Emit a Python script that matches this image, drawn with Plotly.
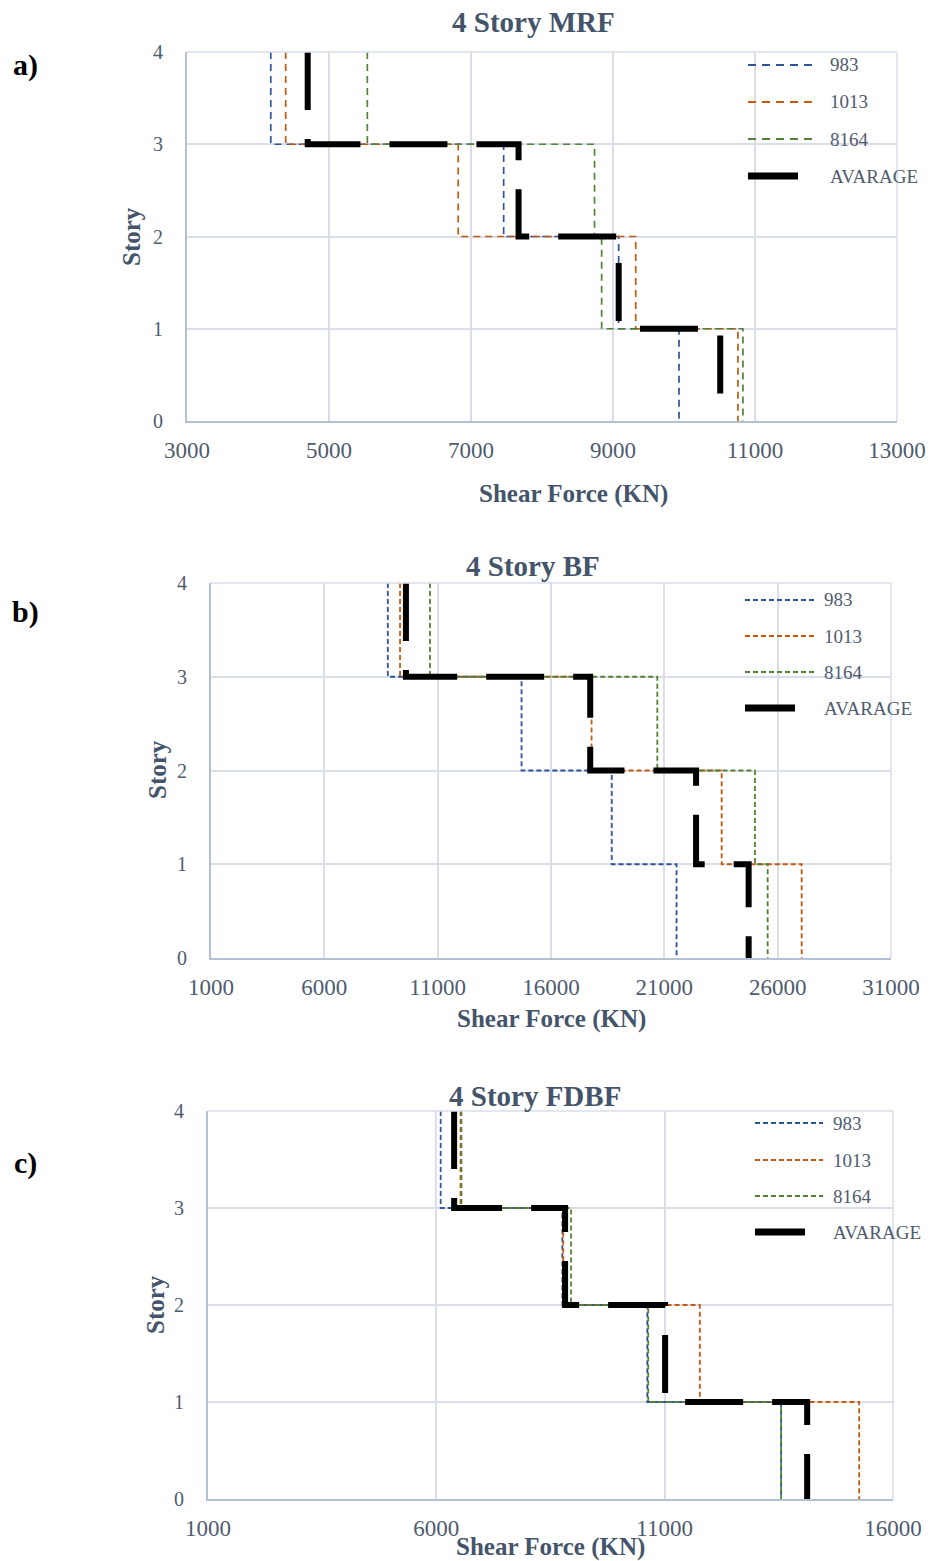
import plotly.graph_objects as go

# ---- data: story shear (kN) for stories 4..1, by record ----
STORY_LEVELS = [4, 3, 2, 1, 0]
RECORDS = ["983", "1013", "8164", "AVARAGE"]

MRF_983 = [4180, 7460, 9080, 9930]
MRF_1013 = [4390, 6820, 9320, 10760]
MRF_8164 = [5540, 8740, 8840, 10830]
MRF_AVG = [4700, 7670, 9080, 10510]

BF_983 = [8800, 14700, 18680, 21540]
BF_1013 = [9340, 17790, 23530, 27060]
BF_8164 = [10660, 20690, 25000, 25560]
BF_AVG = [9600, 17730, 22400, 24720]

FDBF_983 = [6095, 8760, 10620, 13550]
FDBF_1013 = [6530, 8780, 11770, 15260]
FDBF_8164 = [6550, 8950, 10640, 13550]
FDBF_AVG = [6390, 8820, 11010, 14120]

PANEL_TITLES = ["4 Story MRF", "4 Story BF", "4 Story FDBF"]
PANEL_TAGS = ["a)", "b)", "c)"]
X_RANGES = [[3000, 13000], [1000, 31000], [1000, 16000]]
X_TICKS = [
    [3000, 5000, 7000, 9000, 11000, 13000],
    [1000, 6000, 11000, 16000, 21000, 26000, 31000],
    [1000, 6000, 11000, 16000],
]
Y_TICKS = [0, 1, 2, 3, 4]

PANELS = [
    [MRF_983, MRF_1013, MRF_8164, MRF_AVG],
    [BF_983, BF_1013, BF_8164, BF_AVG],
    [FDBF_983, FDBF_1013, FDBF_8164, FDBF_AVG],
]

# ---- styling ----
W, H = 933, 1561
SERIF = "Liberation Serif, Times New Roman, serif"
COLORS = ["#2F5597", "#C55A11", "#548235", "#000000"]
TEXT = "#44546A"
TICK_TEXT = "#4F5B6E"
GRID = "#D9DEE8"
AXLINE = "#B4C0D4"


def px(x):
    return x / W


def py(y):
    return 1 - y / H


# plot-area boxes in pixels: left, right, top, bottom
BOXES = [(187, 897, 52, 421), (211, 891, 583, 958), (208, 893, 1111, 1499)]
THIN_DASH = ["7px,5px", "5px,3px", "5px,3px"]
THIN_W = [1.7, 1.8, 1.8]

fig = go.Figure()
shapes = []

for i, series in enumerate(PANELS):
    xa = "x" if i == 0 else f"x{i + 1}"
    ya = "y" if i == 0 else f"y{i + 1}"
    for j, vals in enumerate(series):
        is_avg = j == 3
        fig.add_trace(go.Scatter(
            x=vals + [vals[-1]],
            y=STORY_LEVELS,
            mode="lines",
            line_shape="vh",
            name=RECORDS[j],
            showlegend=False,
            line=dict(
                color=COLORS[j],
                width=6 if is_avg else THIN_W[i],
                dash="58px,29px" if is_avg else THIN_DASH[i],
            ),
            xaxis=xa,
            yaxis=ya,
        ))

    l, r, t, b = BOXES[i]
    xkey = "xaxis" if i == 0 else f"xaxis{i + 1}"
    ykey = "yaxis" if i == 0 else f"yaxis{i + 1}"
    fig.update_layout({
        xkey: dict(
            domain=[px(l), px(r)],
            anchor=ya,
            range=X_RANGES[i],
            tickvals=X_TICKS[i],
            tickformat="d",
            showgrid=True, gridcolor=GRID, gridwidth=1.5,
            showline=True, linecolor=AXLINE, linewidth=2,
            zeroline=False, automargin=False,
            ticks="", ticklabelstandoff=7,
            tickfont=dict(family=SERIF, size=23, color=TICK_TEXT),
        ),
        ykey: dict(
            domain=[py(b), py(t)],
            anchor=xa,
            range=[0, 4],
            tickvals=Y_TICKS,
            showgrid=True, gridcolor=GRID, gridwidth=1.5,
            showline=True, linecolor=AXLINE, linewidth=2,
            zeroline=False, automargin=False,
            ticks="", ticklabelstandoff=18,
            tickfont=dict(family=SERIF, size=20, color=TICK_TEXT),
        ),
    })

    # light frame on the top and right edges of each plot area
    shapes.append(dict(type="line", xref=f"{xa} domain", yref=f"{ya} domain",
                       x0=0, x1=1, y0=1, y1=1, line=dict(color=GRID, width=1.5)))
    shapes.append(dict(type="line", xref=f"{xa} domain", yref=f"{ya} domain",
                       x0=1, x1=1, y0=0, y1=1, line=dict(color=GRID, width=1.5)))

annotations = []

# titles, axis titles, panel tags
TITLE_POS = [(533, 22), (533, 566), (535, 1096)]
XTITLE_POS = [(573, 494), (551, 1019), (550, 1547)]
YTITLE_POS = [(132, 237), (157, 770), (155, 1305)]
TAG_POS = [(25, 65), (25, 612), (25, 1163)]

for i in range(3):
    annotations.append(dict(
        text=f"<b>{PANEL_TITLES[i]}</b>", x=px(TITLE_POS[i][0]), y=py(TITLE_POS[i][1]),
        xref="paper", yref="paper", showarrow=False, xanchor="center", yanchor="middle",
        font=dict(family=SERIF, size=29, color=TEXT),
    ))
    annotations.append(dict(
        text="<b>Shear Force (KN)</b>", x=px(XTITLE_POS[i][0]), y=py(XTITLE_POS[i][1]),
        xref="paper", yref="paper", showarrow=False, xanchor="center", yanchor="middle",
        font=dict(family=SERIF, size=25, color=TEXT),
    ))
    annotations.append(dict(
        text="<b>Story</b>", x=px(YTITLE_POS[i][0]), y=py(YTITLE_POS[i][1]),
        xref="paper", yref="paper", showarrow=False, xanchor="center", yanchor="middle",
        textangle=-90, font=dict(family=SERIF, size=25, color=TEXT),
    ))
    annotations.append(dict(
        text=f"<b>{PANEL_TAGS[i]}</b>", x=px(TAG_POS[i][0]), y=py(TAG_POS[i][1]),
        xref="paper", yref="paper", showarrow=False, xanchor="center", yanchor="middle",
        font=dict(family=SERIF, size=30, color="#000000"),
    ))

# legend blocks (sample line + label), one per panel
LEGEND_X = [(748, 815, 828), (745, 815, 822), (755, 823, 831)]
LEGEND_Y = [(65, 102, 139, 176), (600, 636, 672, 708), (1123, 1160, 1196, 1232)]
LEGEND_DASH = ["8px,6px", "5px,3px", "5px,3px"]

for i in range(3):
    x0, x1, xt = LEGEND_X[i]
    for j, name in enumerate(RECORDS):
        yy = py(LEGEND_Y[i][j])
        is_avg = j == 3
        shapes.append(dict(
            type="line", xref="paper", yref="paper",
            x0=px(x0), x1=px(x0 + 50 if is_avg else x1), y0=yy, y1=yy,
            line=dict(color=COLORS[j], width=7 if is_avg else 2,
                      dash="solid" if is_avg else LEGEND_DASH[i]),
        ))
        annotations.append(dict(
            text=name, x=px(xt), y=yy, xref="paper", yref="paper",
            showarrow=False, xanchor="left", yanchor="middle",
            font=dict(family=SERIF, size=19, color=TICK_TEXT),
        ))

fig.update_layout(
    width=W, height=H,
    margin=dict(l=0, r=0, t=0, b=0, pad=0, autoexpand=False),
    paper_bgcolor="white", plot_bgcolor="white",
    showlegend=False,
    annotations=annotations,
    shapes=shapes,
)

fig.write_html("out.html")
